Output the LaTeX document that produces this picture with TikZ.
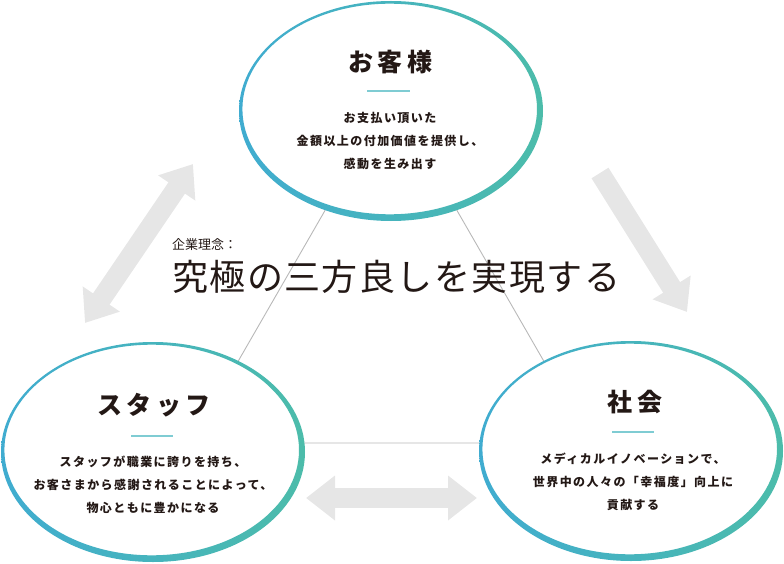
\documentclass[tikz,border=0pt]{standalone}
\usepackage{fontspec}
\setmainfont{Noto Sans CJK JP}
\usetikzlibrary{arrows.meta}
\definecolor{ringblue}{HTML}{40ACD0}
\definecolor{ringteal}{HTML}{4CBCAA}
\definecolor{divcol}{HTML}{7FCCD3}
\definecolor{txtdark}{HTML}{231815}
\definecolor{arrowgray}{HTML}{E6E6E6}
\definecolor{linegray}{HTML}{B8B8B8}
\tikzset{
  ring/.style={even odd rule, left color=ringblue, right color=ringteal, shading angle=90},
  titletext/.style={font=\fontsize{25}{30}\selectfont\bfseries\addfontfeatures{LetterSpace=18}, text=txtdark, inner sep=0pt},
  bodytext/.style={font=\fontsize{12}{23}\selectfont\bfseries\addfontfeatures{LetterSpace=12}, text=txtdark, align=center, inner sep=0pt},
  divider/.style={divcol, line width=1.5pt},
  triline/.style={linegray, line width=0.9pt},
  bigarrow/.style={arrowgray, line width=20pt},
}
\newcommand{\ringat}[2]{%
  \fill[white] (#1,#2) ellipse (152 and 110);
  \shade[ring] (#1,#2) ellipse (152 and 110) (#1-1.3,#2-2) ellipse (147.3 and 105.3);
}
\begin{document}
\begin{tikzpicture}[x=1pt,y=-1pt]
\useasboundingbox (0,0) rectangle (784,564);
% triangle
\coordinate (apex) at (391,96);
\coordinate (bl) at (191,443);
\coordinate (br) at (591,443);
\draw[triline] (apex) -- (bl) -- (br) -- cycle;
% arrows
\coordinate (la1) at (85,323);
\coordinate (la2) at (193,164);
\coordinate (ra1) at (600,173);
\coordinate (ra2) at (687,312);
\coordinate (ba1) at (306,498);
\coordinate (ba2) at (477,498);
\draw[bigarrow, {Triangle[width=43pt,length=29pt]}-{Triangle[width=43pt,length=29pt]}] (la1) -- (la2);
\draw[bigarrow, -{Triangle[width=43pt,length=29pt]}] (ra1) -- (ra2);
\draw[bigarrow, {Triangle[width=43pt,length=29pt]}-{Triangle[width=43pt,length=29pt]}] (ba1) -- (ba2);
% rings
\ringat{391}{111}
\ringat{153}{452}
\ringat{631}{451}
% top
\node[titletext] (t1) at (390,62) {お客様};
\coordinate (d1a) at (367,91);
\coordinate (d1b) at (410,91);
\draw[divider] (d1a) -- (d1b);
\node[bodytext] (b1) at (390,141) {お支払い頂いた\\金額以上の付加価値を提供し、\\感動を生み出す};
% left
\node[titletext] (t2) at (154,405) {スタッフ};
\coordinate (d2a) at (131,436);
\coordinate (d2b) at (173,436);
\draw[divider] (d2a) -- (d2b);
\node[bodytext] (b2) at (153,485) {スタッフが職業に誇りを持ち、\\お客さまから感謝されることによって、\\物心ともに豊かになる};
% right
\node[titletext] (t3) at (635,402) {社会};
\coordinate (d3a) at (612,432);
\coordinate (d3b) at (654,432);
\draw[divider] (d3a) -- (d3b);
\node[bodytext] (b3) at (633,482) {メディカルイノベーションで、\\世界中の人々の「幸福度」向上に\\貢献する};
% center
\node[font=\fontsize{13}{15}\selectfont, text=txtdark, anchor=west, inner sep=0pt] (c1) at (172,245) {企業理念：};
\node[font=\fontsize{36}{40}\selectfont\addfontfeatures{LetterSpace=4}, text=txtdark, anchor=west, inner sep=0pt] (c2) at (172,277) {究極の三方良しを実現する};
\end{tikzpicture}
\end{document}
